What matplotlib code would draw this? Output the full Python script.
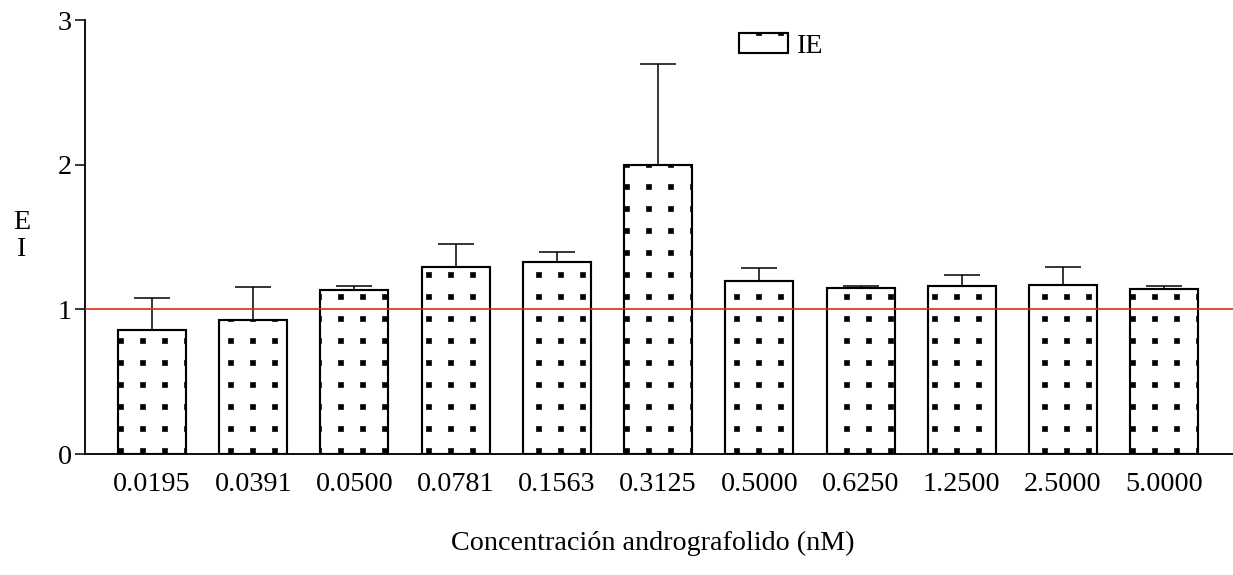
import numpy as np
import matplotlib
matplotlib.use("Agg")
import matplotlib.pyplot as plt
import matplotlib.hatch as mhatch

concentrations = ["0.0195", "0.0391", "0.0500", "0.0781", "0.1563", "0.3125",
                  "0.5000", "0.6250", "1.2500", "2.5000", "5.0000"]
ie_mean = [0.857, 0.928, 1.133, 1.292, 1.327, 2.000, 1.196, 1.149, 1.163, 1.168, 1.140]
ie_err = [0.223, 0.226, 0.026, 0.157, 0.069, 0.695, 0.091, 0.014, 0.074, 0.124, 0.021]
reference_level = 1.0


class SquareDots(mhatch.HatchPatternBase):
    # regular grid of small filled squares, used for the '.' hatch
    rows = 5
    half = 0.023

    def __init__(self, hatch, density):
        self.on = hatch.count('.') > 0
        self.num_vertices = self.rows * self.rows * 5 if self.on else 0

    def set_vertices_and_codes(self, vertices, codes):
        centers = (np.arange(self.rows) + 0.5) / self.rows
        square = np.array([[-1, -1], [1, -1], [1, 1], [-1, 1], [-1, -1]]) * self.half
        k = 0
        for cy in centers:
            for cx in centers:
                vertices[k:k + 5] = square + [cx, cy]
                codes[k] = mhatch.Path.MOVETO
                codes[k + 1:k + 4] = mhatch.Path.LINETO
                codes[k + 4] = mhatch.Path.CLOSEPOLY
                k += 5


mhatch._hatch_types = [t for t in mhatch._hatch_types
                       if t is not mhatch.SmallFilledCircles] + [SquareDots]

plt.rcParams['font.family'] = ['Liberation Serif', 'DejaVu Serif']
plt.rcParams['hatch.linewidth'] = 0.4

DPI = 110
FS = 18.4
fig = plt.figure(figsize=(1233 / DPI, 575 / DPI), dpi=DPI)
ax = fig.add_axes([85 / 1233, 1 - 454 / 575, (1233 - 85) / 1233, (454 - 20) / 575])

x = np.arange(len(concentrations))
bars = ax.bar(x, ie_mean, width=0.672, color='white', edgecolor='black',
              linewidth=1.4, hatch='.', label='IE', zorder=2)
ax.errorbar(x, ie_mean, yerr=[np.zeros(len(ie_err)), ie_err], fmt='none',
            ecolor='black', elinewidth=1.0, capsize=11.5, capthick=1.0, zorder=3)
ax.axhline(reference_level, color='#dc2d14', linewidth=1.1, zorder=4)

ax.set_xlim(-0.662, 10.68)
ax.set_ylim(0, 3)
ax.set_yticks([0, 1, 2, 3])
ax.set_xticks(x)
ax.set_xticklabels(concentrations)
ax.tick_params(axis='x', length=0, pad=12, labelsize=FS)
ax.tick_params(axis='y', length=6.5, width=1.0, pad=2, labelsize=FS)
for side in ('top', 'right'):
    ax.spines[side].set_visible(False)
for side in ('left', 'bottom'):
    ax.spines[side].set_linewidth(1.2)

fig.text(22 / 1233, 1 - 236 / 575, "E\nI", fontsize=FS, ha='center', va='center',
         linespacing=1.1)
fig.text(653 / 1233, 1 - 550 / 575, "Concentración andrografolido (nM)",
         fontsize=FS, ha='center', va='baseline')

fig.legend(handles=[bars], loc='center left', bbox_to_anchor=(739 / 1233, 1 - 46 / 575),
           frameon=False, fontsize=FS, handlelength=1.75, handleheight=0.68,
           handletextpad=0.3, borderpad=0, borderaxespad=0)

fig.savefig("out.png", dpi=DPI)
